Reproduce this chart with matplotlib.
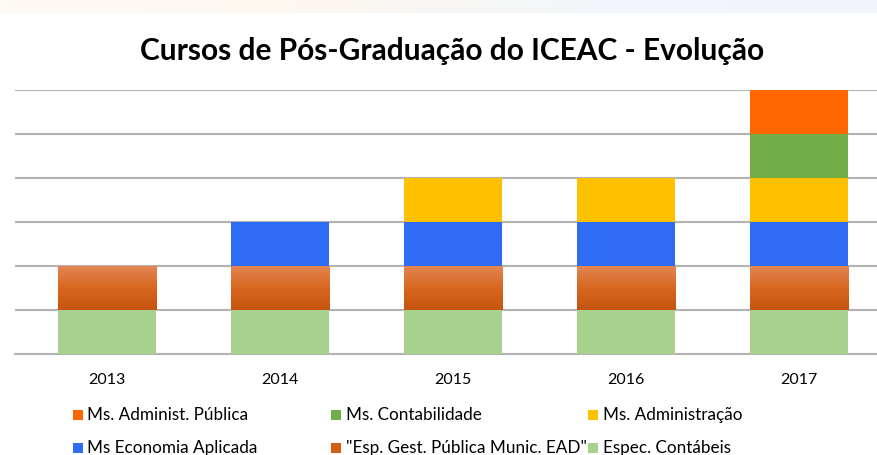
import matplotlib
matplotlib.use("Agg")
import matplotlib.pyplot as plt
import numpy as np
from matplotlib.colors import LinearSegmentedColormap
from matplotlib.patches import Rectangle

years = ['2013', '2014', '2015', '2016', '2017']
espec_contabeis = [1, 1, 1, 1, 1]
esp_gest_pub = [1, 1, 1, 1, 1]
ms_economia = [0, 1, 1, 1, 1]
ms_administracao = [0, 0, 1, 1, 1]
ms_contabilidade = [0, 0, 0, 0, 1]
ms_adm_publica = [0, 0, 0, 0, 1]

series = [
    ('Espec. Contábeis', espec_contabeis, '#a9d18e'),
    ('"Esp. Gest. Pública Munic. EAD"', esp_gest_pub, '#d2601a'),
    ('Ms Economia Aplicada', ms_economia, '#2f6cf5'),
    ('Ms. Administração', ms_administracao, '#ffc000'),
    ('Ms. Contabilidade', ms_contabilidade, '#70ad47'),
    ('Ms. Administ. Pública', ms_adm_publica, '#ff6600'),
]

plt.rcParams['font.family'] = ['Lato', 'DejaVu Sans']

W, H = 877, 455
fig = plt.figure(figsize=(W / 100, H / 100), dpi=100)
fig.patch.set_facecolor('white')

# faint top band
band = np.linspace(0, 1, 200).reshape(1, -1)
bcm = LinearSegmentedColormap.from_list('band', ['#fdf9f4', '#fdf7f0', '#f3f6f9', '#f1f5fa'])
bax = fig.add_axes([0, 1 - 13 / H, 1, 13 / H])
bax.imshow(band, aspect='auto', cmap=bcm, extent=[0, 1, 0, 1])
bax.axis('off')

ax = fig.add_axes([15 / W, 101 / H, (877 - 15) / W, 264 / H])
x = np.arange(len(years))
bottom = np.zeros(len(years))
grad_cmap = LinearSegmentedColormap.from_list('og', ['#c4540f', '#d8661f', '#e38553'])
width = 0.57
for name, vals, col in series:
    vals = np.array(vals, dtype=float)
    bars = ax.bar(x, vals, width, bottom=bottom, color=col, zorder=3,
                  edgecolor='none')
    if name.startswith('"Esp'):
        for b in bars:
            if b.get_height() > 0:
                g = np.linspace(0, 1, 100).reshape(-1, 1)
                ax.imshow(g, aspect='auto', cmap=grad_cmap, origin='lower',
                          extent=[b.get_x(), b.get_x() + b.get_width(),
                                  b.get_y(), b.get_y() + b.get_height()],
                          zorder=3.5)
    bottom += vals

ax.set_xlim((15 - 107) / 173, (877 - 107) / 173)
ax.set_ylim(0, 6)
ax.set_yticks(range(0, 7))
ax.yaxis.grid(True, color='#b3b3b3', linewidth=1.5, zorder=0)
ax.set_axisbelow(True)
ax.tick_params(axis='y', left=False, labelleft=False)
ax.tick_params(axis='x', length=0, pad=14, labelsize=11.5, colors='black')
ax.set_xticks(x)
ax.set_xticklabels(years)
for s in ['top', 'right', 'left']:
    ax.spines[s].set_visible(False)
ax.spines['bottom'].set_color('#b3b3b3')
ax.spines['bottom'].set_linewidth(1.5)
ax.set_facecolor('none')

fig.text(452 / W, 1 - 51 / H, 'Cursos de Pós-Graduação do ICEAC - Evolução',
         ha='center', va='center', fontsize=21.5, fontweight='bold', color='black')

# legend (manual, row-wise, reverse order)
legend_order = list(reversed(series))
mark_x = [73, 331, 588]
text_x = [87, 346, 603]
row_y = [415, 448]
for i, (name, vals, col) in enumerate(legend_order):
    r, c = divmod(i, 3)
    px, py = mark_x[c], row_y[r]
    fig.patches.append(Rectangle((px / W, 1 - (py + 5) / H), 10 / W, 10 / H,
                                 transform=fig.transFigure, facecolor=col,
                                 edgecolor='none'))
    fig.text(text_x[c] / W, 1 - py / H, name, ha='left', va='center',
             fontsize=12.3, color='black')

fig.savefig('out.png', dpi=100)
